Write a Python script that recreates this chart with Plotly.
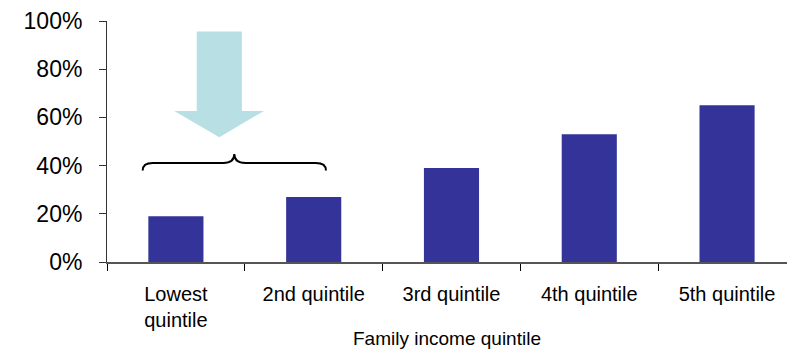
import plotly.graph_objects as go

# Share of students by family income quintile
categories = ["Lowest<br>quintile", "2nd quintile", "3rd quintile", "4th quintile", "5th quintile"]
shares = [0.19, 0.27, 0.39, 0.53, 0.65]
y_ticks = [0, 0.2, 0.4, 0.6, 0.8, 1.0]
y_tick_labels = ["0%", "20%", "40%", "60%", "80%", "100%"]
x_title = "Family income quintile"

FONT = "Liberation Sans, Arial, sans-serif"
BAR_COLOR = "#333399"
ARROW_COLOR = "#B8E0E4"

fig = go.Figure(
    go.Bar(
        x=categories,
        y=shares,
        width=0.4,
        marker=dict(color=BAR_COLOR, line=dict(width=0)),
        hoverinfo="skip",
    )
)

# Down arrow pointing at the lower-income group (data coordinates)
sl, sr, st, sb = 0.151, 0.479, 0.956, 0.627
hl, hr, tip_x, tip_y = -0.012, 0.639, 0.315, 0.518
arrow_path = (
    f"M {sl},{st} L {sr},{st} L {sr},{sb} L {hr},{sb} "
    f"L {tip_x},{tip_y} L {hl},{sb} L {sl},{sb} Z"
)

# Curly brace spanning the two lowest quintiles
x0, x1, xm = -0.241, 1.089, 0.424
ye, yl, yp = 0.380, 0.411, 0.448
de, dm = 0.073, 0.08
brace_path = (
    f"M {x0},{ye} Q {x0},{yl} {x0 + de},{yl} "
    f"L {xm - dm},{yl} Q {xm},{yl} {xm},{yp} "
    f"Q {xm},{yl} {xm + dm},{yl} "
    f"L {x1 - de},{yl} Q {x1},{yl} {x1},{ye}"
)

fig.update_layout(
    shapes=[
        dict(type="path", xref="x", yref="y", path=arrow_path,
             fillcolor=ARROW_COLOR, line=dict(width=0), layer="above"),
        dict(type="path", xref="x", yref="y", path=brace_path,
             fillcolor="rgba(0,0,0,0)", line=dict(color="black", width=2), layer="above"),
    ],
    annotations=[
        dict(text=x_title, xref="paper", yref="paper", x=0.5, y=-0.316,
             xanchor="center", yanchor="middle", showarrow=False,
             font=dict(family=FONT, size=19, color="black")),
    ],
)

fig.update_xaxes(
    type="category",
    range=[-0.5, 4.435],
    showline=True, linecolor="#555555", linewidth=1.5,
    ticks="outside", tickson="boundaries", ticklen=7, tickcolor="black", tickwidth=1,
    ticklabelstandoff=13,
    tickfont=dict(family=FONT, size=20, color="black"),
    showgrid=False, zeroline=False,
)
fig.update_yaxes(
    range=[0, 1],
    tickvals=y_ticks, ticktext=y_tick_labels,
    showline=True, linecolor="#333333", linewidth=1,
    ticks="outside", ticklen=7, tickcolor="#333333",
    ticklabelstandoff=12,
    tickfont=dict(family=FONT, size=23, color="black"),
    showgrid=False, zeroline=False,
)

fig.update_layout(
    width=787, height=349,
    margin=dict(l=107, r=0, t=21, b=86.5),
    plot_bgcolor="white", paper_bgcolor="white",
    showlegend=False,
    font=dict(family=FONT),
)

fig.write_html("out.html")
